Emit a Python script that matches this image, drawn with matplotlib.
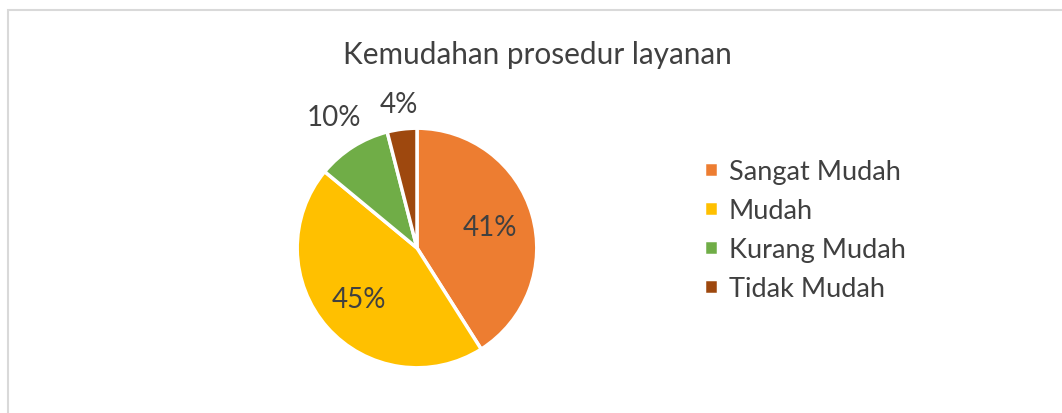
import matplotlib
matplotlib.use("Agg")
import numpy as np
import matplotlib.pyplot as plt
from matplotlib.patches import Rectangle

# ── Data ──────────────────────────────────────────────────────────────────────
categories = ["Sangat Mudah", "Mudah", "Kurang Mudah", "Tidak Mudah"]
percentages = [41, 45, 10, 4]
colors = ["#ED7D31", "#FFC000", "#70AD47", "#9E480E"]
label_dist = [0.63, 0.65, 1.3, 1.21]  # inside for big slices, outside for small

text_color = "#404040"
plt.rcParams["font.family"] = ["Lato", "DejaVu Sans"]

W, H = 1062, 414
fig = plt.figure(figsize=(W / 100, H / 100), dpi=100)

# chart border (light grey, runs off the right and bottom edges)
fig.patches.append(Rectangle((8 / W, -0.1), 1.2, (H - 11) / H + 0.1,
                             transform=fig.transFigure, fill=False,
                             edgecolor="#d9d9d9", linewidth=1.5))

# pie axes: centre (417, 249) px, radius 121 px
cx, cy, r = 417, 249, 121
ax = fig.add_axes([(cx - r) / W, (H - cy - r) / H, 2 * r / W, 2 * r / H])

wedges, _ = ax.pie(percentages, colors=colors, startangle=90, counterclock=False,
                   wedgeprops=dict(edgecolor="white", linewidth=2.5))
ax.set_xlim(-1.01, 1.01)
ax.set_ylim(-1.01, 1.01)
ax.set_aspect("equal")

for w, pct, d in zip(wedges, percentages, label_dist):
    mid = np.deg2rad((w.theta1 + w.theta2) / 2)
    ax.text(d * np.cos(mid), d * np.sin(mid), f"{pct}%", ha="center", va="center",
            fontsize=20, color=text_color)

fig.text(537 / W, 1 - 55 / H, "Kemudahan prosedur layanan", ha="center", va="center",
         fontsize=21.4, color=text_color)

fig.legend(wedges, categories, loc="center left", bbox_to_anchor=(680 / W, 1 - 231 / H),
           frameon=False, fontsize=19.5, labelcolor=text_color,
           handlelength=0.5, handleheight=0.5, handletextpad=0.4, labelspacing=0.52)

fig.savefig("out.png", dpi=100)
